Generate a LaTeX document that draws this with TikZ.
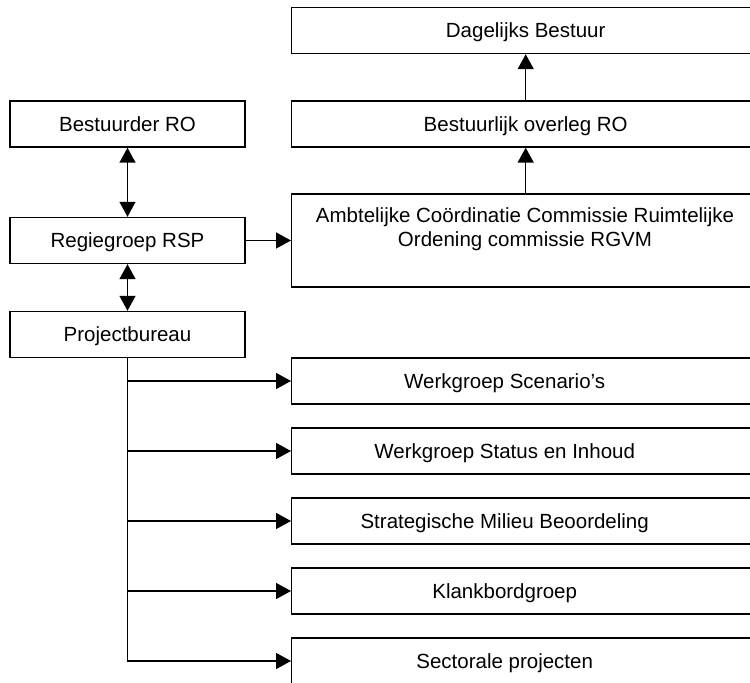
\documentclass[tikz,border=0pt]{standalone}
\usepackage{fontspec}
\setmainfont{Liberation Sans}
\usetikzlibrary{arrows.meta}

\begin{document}
\begin{tikzpicture}[x=0.5pt,y=-0.5pt,font=\fontsize{10.25}{12}\selectfont,
  line width=0.7pt,>={Triangle[length=7.5pt,width=8pt]},
  orgbox/.style={draw,minimum height=23pt,inner sep=0pt,text height=7.4pt,text depth=0pt},
  lbox/.style={orgbox,minimum width=117.5pt},
  rbox/.style={orgbox,minimum width=234pt,anchor=west},
  wbox/.style={rbox,execute at begin node={\hspace*{-21pt}}}]
  \useasboundingbox (0,0) rectangle (750,683);
  % left column
  \node[lbox] (bestuurder) at (127.5,124)   {Bestuurder RO};
  \node[lbox] (regie)      at (127.5,240.5) {Regiegroep RSP};
  \node[lbox] (projb)      at (127.5,334.5) {Projectbureau};
  % right column, top
  \node[rbox] (db)  at (291,30.5) {Dagelijks Bestuur};
  \node[rbox] (bo)  at (291,124)  {Bestuurlijk overleg RO};
  \node[rbox,minimum height=46.5pt] (acc) at (291,240.5) {};
  \node[align=center,inner sep=0pt] (acctxt) at (525,229)
    {Ambtelijke Coördinatie Commissie Ruimtelijke\\Ordening commissie RGVM};
  % right column, werkgroepen
  \node[wbox] (scen)   at (291,381) {Werkgroep Scenario’s};
  \node[wbox] (status) at (291,451) {Werkgroep Status en Inhoud};
  \node[wbox] (smb)    at (291,521) {Strategische Milieu Beoordeling};
  \node[wbox] (klank)  at (291,591) {Klankbordgroep};
  \node[wbox] (sector) at (291,661) {Sectorale projecten};
  % connectors
  \draw[<->] (bestuurder) -- (regie);
  \draw[<->] (regie) -- (projb);
  \draw[->] (regie) -- (acc);
  \draw[->] (acc) -- (bo);
  \draw[->] (bo) -- (db);
  \foreach \t in {scen,status,smb,klank,sector}
    \draw[->] (projb.south) |- (\t.west);
\end{tikzpicture}
\end{document}
